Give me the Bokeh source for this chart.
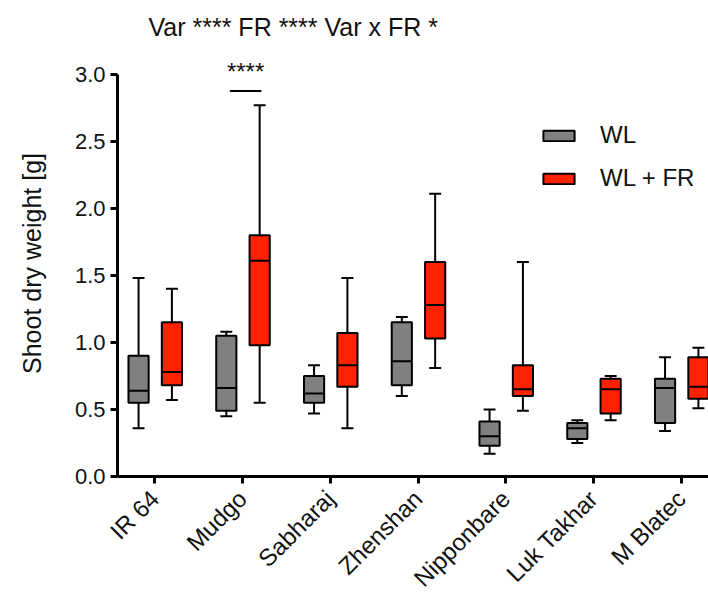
import math
from bokeh.plotting import figure
from bokeh.models import (Range1d, FixedTicker, PrintfTickFormatter, Legend, LegendItem,
                          ColumnDataSource)
from bokeh.core.properties import value
from bokeh.embed import file_html
from bokeh.resources import INLINE

# ---- data ----
categories = ["IR 64", "Mudgo", "Sabharaj", "Zhenshan", "Nipponbare", "Luk Takhar", "M Blatec"]
wl_min = [0.36, 0.45, 0.47, 0.60, 0.17, 0.25, 0.34]
wl_q1 = [0.55, 0.49, 0.55, 0.68, 0.23, 0.28, 0.40]
wl_med = [0.64, 0.66, 0.62, 0.86, 0.30, 0.36, 0.66]
wl_q3 = [0.90, 1.05, 0.75, 1.15, 0.41, 0.40, 0.73]
wl_max = [1.48, 1.08, 0.83, 1.19, 0.50, 0.42, 0.89]
fr_min = [0.57, 0.55, 0.36, 0.81, 0.49, 0.42, 0.51]
fr_q1 = [0.68, 0.98, 0.67, 1.03, 0.60, 0.47, 0.58]
fr_med = [0.78, 1.61, 0.83, 1.28, 0.65, 0.65, 0.67]
fr_q3 = [1.15, 1.80, 1.07, 1.60, 0.83, 0.73, 0.89]
fr_max = [1.40, 2.77, 1.48, 2.11, 1.60, 0.75, 0.96]
y_ticks = [0.0, 0.5, 1.0, 1.5, 2.0, 2.5, 3.0]
series_names = ["WL", "WL + FR"]
title_text = "Var **** FR **** Var x FR *"
sig_text = "****"
sig_category = 1
sig_bar_level = 2.875
sig_text_level = 3.02

FONT = "Liberation Sans"
INK = "#111111"
GRAY = "#808080"
RED = "#ff2200"

p = figure(width=708, height=604, output_backend="svg", toolbar_location=None,
           x_range=Range1d(-0.425, 6.31), y_range=Range1d(0, 3.178),
           min_border_left=117, min_border_right=0, min_border_top=50,
           min_border_bottom=126)
p.outline_line_color = None
p.grid.visible = False
p.background_fill_color = "white"
p.border_fill_color = "white"

# title
p.title.text = title_text
p.title.text_font = FONT
p.title.text_font_size = "25px"
p.title.text_font_style = "normal"
p.title.text_color = INK
p.title.align = "left"
p.title.offset = 31
p.title.standoff = 20

def boxes(offset, mins, q1, med, q3, maxs, color):
    n = len(categories)
    xs = [i + offset for i in range(n)]
    w = 0.23
    cap = 0.068
    src = ColumnDataSource(dict(x=xs, q1=q1, q3=q3, med=med, lo=mins, hi=maxs,
                                xl=[x - w / 2 for x in xs], xr=[x + w / 2 for x in xs],
                                cl=[x - cap for x in xs], cr=[x + cap for x in xs]))
    p.segment(x0="x", y0="q3", x1="x", y1="hi", source=src, line_color="black", line_width=2)
    p.segment(x0="x", y0="q1", x1="x", y1="lo", source=src, line_color="black", line_width=2)
    p.segment(x0="cl", y0="hi", x1="cr", y1="hi", source=src, line_color="black", line_width=2)
    p.segment(x0="cl", y0="lo", x1="cr", y1="lo", source=src, line_color="black", line_width=2)
    r = p.vbar(x="x", width=w, top="q3", bottom="q1", source=src, fill_color=color,
               line_color="black", line_width=2)
    p.segment(x0="xl", y0="med", x1="xr", y1="med", source=src, line_color="black", line_width=2)
    return r

r_wl = boxes(-0.185, wl_min, wl_q1, wl_med, wl_q3, wl_max, GRAY)
r_fr = boxes(0.195, fr_min, fr_q1, fr_med, fr_q3, fr_max, RED)

# significance bar and stars
p.segment(x0=[sig_category - 0.145], y0=[sig_bar_level], x1=[sig_category + 0.215],
          y1=[sig_bar_level], line_color="black", line_width=2)
p.text(x=[sig_category + 0.035], y=[sig_text_level], text=[sig_text],
       text_align="center", text_baseline="alphabetic", text_font=value(FONT),
       text_font_size="24px", text_color=INK)

# axes
for ax in (p.xaxis[0], p.yaxis[0]):
    ax.axis_line_width = 3
    ax.axis_line_color = "black"
    ax.major_tick_line_width = 3
    ax.major_tick_line_color = "black"
    ax.major_tick_out = 7
    ax.major_tick_in = 0
    ax.minor_tick_line_color = None
    ax.major_label_text_font = FONT
    ax.major_label_text_color = INK

p.yaxis.bounds = (0, 3.0)
p.yaxis.ticker = FixedTicker(ticks=y_ticks)
p.yaxis.formatter = PrintfTickFormatter(format="%.1f")
p.yaxis.major_label_text_font_size = "22px"
p.yaxis.axis_label = "Shoot dry weight [g]"
p.yaxis.axis_label_text_font = FONT
p.yaxis.axis_label_text_font_size = "25px"
p.yaxis.axis_label_text_font_style = "normal"
p.yaxis.axis_label_text_color = INK
p.yaxis.axis_label_standoff = 26

p.xaxis.ticker = FixedTicker(ticks=list(range(len(categories))))
p.xaxis.major_label_overrides = {i: c for i, c in enumerate(categories)}
p.xaxis.major_label_orientation = math.pi / 4
p.xaxis.major_label_text_font_size = "24px"
p.xaxis.major_label_standoff = 11

legend = Legend(items=[LegendItem(label=series_names[0], renderers=[r_wl]),
                       LegendItem(label=series_names[1], renderers=[r_fr])],
                location=(422, 284), orientation="vertical")
legend.background_fill_alpha = 0
legend.border_line_color = None
legend.padding = 0
legend.margin = 0
legend.spacing = 15
legend.glyph_width = 39
legend.glyph_height = 13
legend.label_standoff = 22
legend.label_text_font = FONT
legend.label_text_font_size = "24px"
legend.label_text_color = INK
p.add_layout(legend)

open("out.html", "w").write(file_html(p, INLINE))
